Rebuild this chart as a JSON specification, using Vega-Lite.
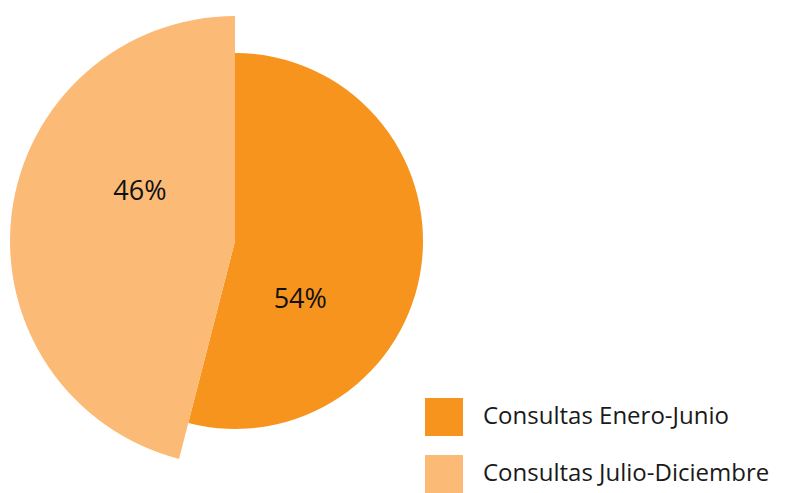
{
  "$schema": "https://vega.github.io/schema/vega-lite/v6.json",
  "width": 470,
  "height": 482,
  "padding": 0,
  "background": "white",
  "config": {"view": {"stroke": null}},
  "data": {
    "values": [
      {"periodo": "Consultas Enero-Junio", "pct": 54, "etiqueta": "54%"},
      {"periodo": "Consultas Julio-Diciembre", "pct": 46, "etiqueta": "46%"}
    ]
  },
  "encoding": {
    "theta": {"field": "pct", "type": "quantitative", "stack": true},
    "order": {"field": "periodo"}
  },
  "layer": [
    {
      "mark": {
        "type": "arc",
        "outerRadius": {"expr": "datum.periodo === 'Consultas Julio-Diciembre' ? 225 : 188"}
      },
      "encoding": {
        "color": {
          "field": "periodo",
          "type": "nominal",
          "scale": {"domain": ["Consultas Enero-Junio", "Consultas Julio-Diciembre"], "range": ["#F7941E", "#FBBB77"]},
          "legend": {
            "orient": "none",
            "legendX": 425,
            "legendY": 398,
            "title": null,
            "symbolType": "square",
            "symbolSize": 1444,
            "symbolStrokeWidth": 0,
            "symbolOpacity": 1,
            "labelFontSize": 24,
            "labelFont": "Open Sans",
            "labelColor": "#1a1a1a",
            "labelLimit": 500,
            "rowPadding": 19,
            "labelOffset": 20,
            "padding": 0
          }
        }
      }
    },
    {
      "mark": {
        "type": "text",
        "font": "Open Sans",
        "fontSize": 27,
        "color": "#111111",
        "radius": {"expr": "datum.periodo === 'Consultas Julio-Diciembre' ? 107 : 88"},
        "thetaOffset": {"expr": "datum.periodo === 'Consultas Julio-Diciembre' ? 0.35 : 0.61"}
      },
      "encoding": {
        "text": {"field": "etiqueta", "type": "nominal"}
      }
    }
  ]
}
